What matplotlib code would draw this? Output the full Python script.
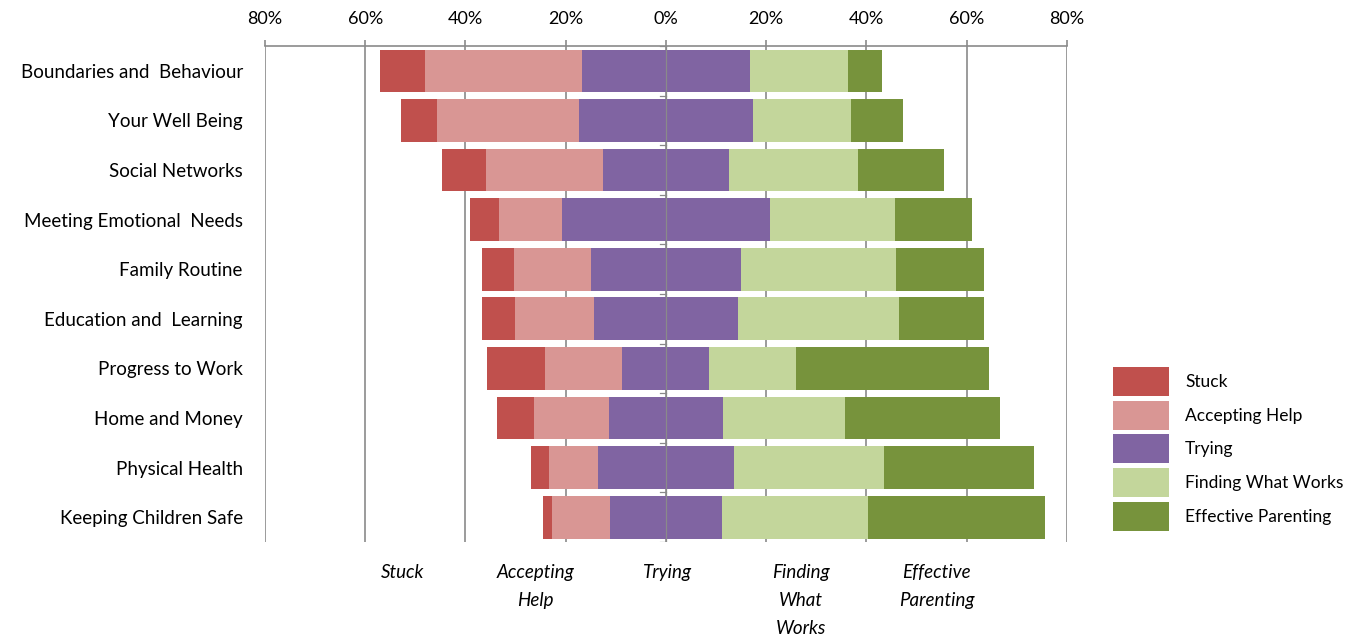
import numpy as np
import matplotlib.pyplot as plt

categories = ['Boundaries and  Behaviour', 'Your Well Being', 'Social Networks',
              'Meeting Emotional  Needs', 'Family Routine', 'Education and  Learning',
              'Progress to Work', 'Home and Money', 'Physical Health',
              'Keeping Children Safe']

stuck     = [9.0, 7.2, 8.8, 5.8, 6.4, 6.4, 11.6, 7.2, 3.6, 1.8]
accepting = [31.2, 28.4, 23.2, 12.4, 15.4, 15.8, 15.4, 15.0, 9.8, 11.6]
trying    = [33.6, 34.6, 25.2, 41.6, 29.8, 28.8, 17.4, 22.8, 27.2, 22.4]
finding   = [19.6, 19.6, 25.8, 25.0, 31.0, 32.2, 17.2, 24.4, 30.0, 29.2]
effective = [6.8, 10.4, 17.2, 15.2, 17.6, 16.8, 38.6, 30.8, 29.8, 35.2]

series_names = ['Stuck', 'Accepting Help', 'Trying', 'Finding What Works', 'Effective Parenting']
colors = ['#C0504D', '#D99694', '#8064A2', '#C3D69B', '#77933C']

bottom_labels = ['Stuck', 'Accepting\nHelp', 'Trying', 'Finding\nWhat\nWorks', 'Effective\nParenting']
bottom_label_x = [-52.5, -26, 0.4, 27, 54]

plt.rcParams['font.family'] = ['Lato', 'DejaVu Sans']

fig = plt.figure(figsize=(13.52, 6.35), dpi=100)
ax = fig.add_axes([0.196, 0.1465, 0.593, 0.781])

data = np.array([stuck, accepting, trying, finding, effective])
y = np.arange(len(categories))
left = -(data[0] + data[1] + data[2] / 2)
for vals, name, c in zip(data, series_names, colors):
    ax.barh(y, vals, left=left, height=0.86, color=c, label=name, zorder=2)
    left = left + vals

ax.set_xlim(-80, 80)
ax.set_ylim(len(categories) - 0.5, -0.5)
ax.set_xticks(np.arange(-80, 81, 20))
ax.set_xticklabels([f'{abs(v)}%' for v in range(-80, 81, 20)])
ax.xaxis.tick_top()
ax.tick_params(axis='x', direction='out', length=4.5, width=1.2, color='#8a8a8a',
               labelsize=13, pad=9)
ax.grid(axis='x', color='#8a8a8a', linewidth=1.2, zorder=0)
ax.set_axisbelow(True)

ax.set_yticks(y)
ax.set_yticklabels(categories)
ax.tick_params(axis='y', length=0, labelsize=13.5, pad=16)

for s in ['left', 'right', 'bottom']:
    ax.spines[s].set_visible(False)
ax.spines['top'].set_color('#8a8a8a')
ax.spines['top'].set_linewidth(1.2)

# category axis at 0 with small ticks between rows
ax.axvline(0, color='#8a8a8a', linewidth=0.9, zorder=3)
for b in np.arange(-0.5, len(categories), 1):
    ax.plot([-1.2, 0], [b, b], color='#8a8a8a', linewidth=0.9, zorder=3)

for lbl, xp in zip(bottom_labels, bottom_label_x):
    ax.text(xp, -0.045, lbl, transform=ax.get_xaxis_transform(), ha='center', va='top',
            fontsize=13.5, style='italic', linespacing=1.78)

fig.legend(loc='upper left', bbox_to_anchor=(1113 / 1352, 1 - 367 / 635), frameon=False,
           fontsize=12.5, handlelength=3.2, handleheight=2.19, labelspacing=0.27,
           handletextpad=0.95, borderpad=0, borderaxespad=0)

fig.savefig('out.png', dpi=100)
